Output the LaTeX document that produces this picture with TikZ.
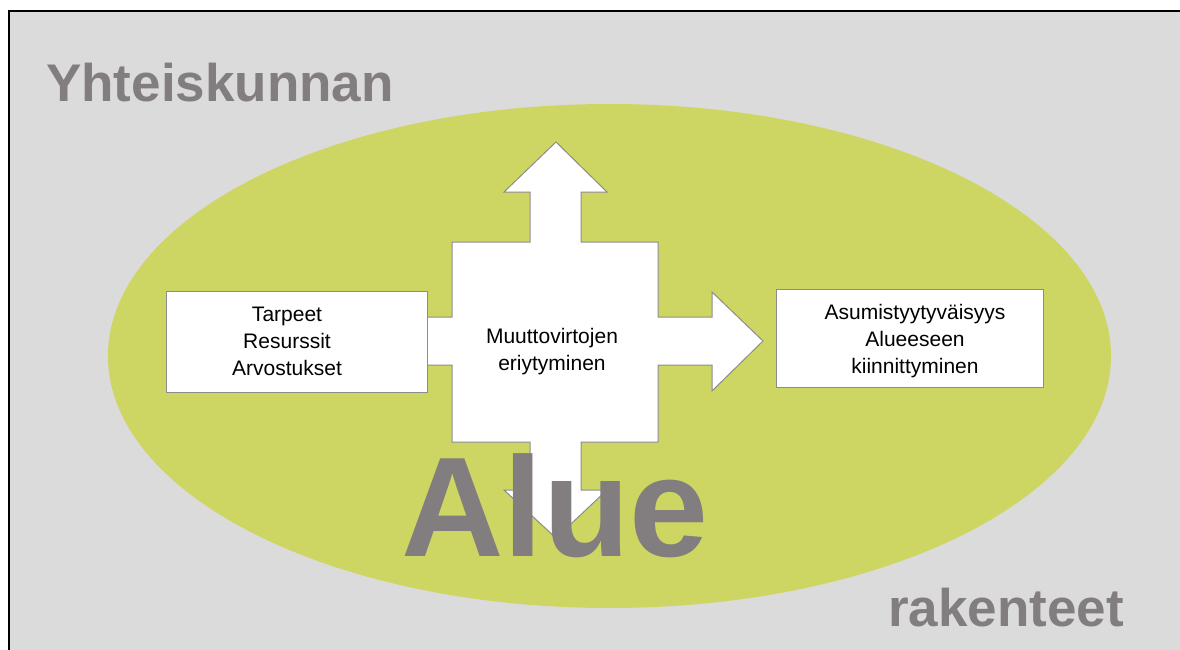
\documentclass[tikz,border=0pt]{standalone}
\usepackage{fontspec}
\setmainfont{Liberation Sans}
\definecolor{bggray}{HTML}{DBDBDB}
\definecolor{ellgreen}{HTML}{CED663}
\definecolor{txtgray}{HTML}{827D7E}
\definecolor{edgegray}{HTML}{8C8C8C}
\tikzset{
  bigword/.style={anchor=base west, inner sep=0pt, text=txtgray, font=\bfseries\fontsize{53}{60}\selectfont},
  boxtext/.style={align=center, inner sep=0pt, text=black, font=\fontsize{21}{27}\selectfont},
  whitebox/.style={draw=edgegray, line width=1pt, fill=white},
}
\begin{document}
\begin{tikzpicture}[x=1pt,y=-1pt]
\useasboundingbox (0,0) rectangle (1180,650);
\clip (0,0) rectangle (1180,650);
% frame
\path[fill=bggray, draw=black, line width=1.6pt] (8.8,11.2) rectangle (1190,660);
% ellipse
\fill[ellgreen] (609.5,356) ellipse [x radius=501.5, y radius=252];
% four-way arrow
\draw[whitebox, line join=miter]
  (420,317) -- (452,317) -- (452,242) -- (530,242) -- (530,192) -- (504,192)
  -- (556,142) -- (607,192) -- (581,192) -- (581,242) -- (658,242) -- (658,317)
  -- (712,317) -- (712,292) -- (763,341) -- (712,391) -- (712,365) -- (658,365)
  -- (658,442) -- (581,442) -- (581,490) -- (607,490) -- (556,538) -- (504,490)
  -- (530,490) -- (530,442) -- (452,442) -- (452,365) -- (420,365) -- cycle;
% boxes
\node[whitebox, minimum width=261pt, minimum height=101pt, inner sep=0pt] (leftbox) at (296.5,341.5) {};
\node[whitebox, minimum width=267pt, minimum height=98pt, inner sep=0pt] (rightbox) at (909.5,338) {};
% texts
\node[boxtext] (lefttext) at (287,342.6) {\strut Tarpeet\\\strut Resurssit\\\strut Arvostukset};
\node[boxtext] (midtext) at (552,351.1) {\strut Muuttovirtojen\\\strut eriytyminen};
\node[boxtext] (righttext) at (915,340.6) {\strut Asumistyytyväisyys\\\strut Alueeseen\\\strut kiinnittyminen};
\node[bigword] (yht) at (46,102) {Yhteiskunnan};
\node[bigword] (rak) at (888,626) {rakenteet};
\node[bigword, font=\bfseries\fontsize{142}{150}\selectfont] (alue) at (401,556) {Alue};
\end{tikzpicture}
\end{document}
